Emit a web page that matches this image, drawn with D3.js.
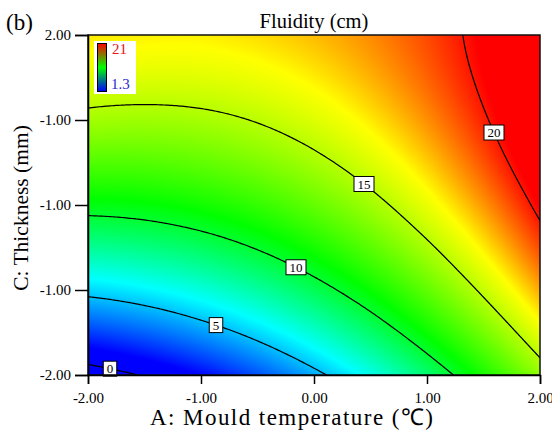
<!DOCTYPE html>
<html><head><meta charset="utf-8">
<script src="https://cdn.jsdelivr.net/npm/d3@7"></script>
<style>body{margin:0;background:#fff}</style>
</head><body>
<svg id="chart" width="552" height="432" xmlns="http://www.w3.org/2000/svg"></svg>
<script>
// ---------- data ----------
const gridA = [-2, -1.5, -1, -0.5, 0, 0.5, 1, 1.5, 2];        // A: Mould temperature (coded)
const gridC = [-2, -1.5, -1, -0.5, 0, 0.5, 1, 1.5, 2];        // C: Thickness (coded)
// fluidity (cm): one row per C value (bottom to top), one column per A value
const fluidity = [
  [-0.84,  0.13,  1.35,  2.84,  4.58,  6.59,  8.85, 11.38, 14.16],
  [ 2.45,  3.19,  4.22,  5.51,  7.09,  8.94, 11.07, 13.47, 16.15],
  [ 5.45,  5.99,  6.82,  7.94,  9.35, 11.04, 13.02, 15.29, 17.85],
  [ 8.16,  8.52,  9.16, 10.11, 11.35, 12.89, 14.71, 16.84, 19.26],
  [10.58, 10.76, 11.25, 12.02, 13.10, 14.47, 16.15, 18.11, 20.38],
  [12.71, 12.74, 13.06, 13.68, 14.60, 15.81, 17.31, 19.12, 21.21],
  [14.55, 14.44, 14.62, 15.09, 15.85, 16.89, 18.22, 19.84, 21.75],
  [16.00, 15.87, 15.92, 16.24, 16.84, 17.72, 18.87, 20.29, 22.00],
  [16.90, 16.80, 16.80, 17.10, 17.58, 18.29, 19.25, 20.48, 21.96]
];
const contourLevels = [0, 5, 10, 15, 20];
const labelA = [-1.80, -0.86, -0.16, 0.44, 1.59];   // where each contour label sits along A
const colorStops = [1.3, 6.2, 10.9, 16.6, 20.3];
const colorRange = ["#0000ff", "#00ffff", "#00ff00", "#ffff00", "#ff0000"];
const legendMax = "21", legendMin = "1.3";
const xTickValues = [-2, -1, 0, 1, 2];
const xTickLabels = ["-2.00", "-1.00", "0.00", "1.00", "2.00"];
const yTickValues = [-2, -1, 0, 1, 2];
const yTickLabels = ["-2.00", "-1.00", "-1.00", "-1.00", "2.00"];
const title = "Fluidity (cm)";
const xTitle = "A: Mould temperature (\u2103)";
const yTitle = "C: Thickness (mm)";
const panel = "(b)";

// ---------- layout ----------
const L = 88, R = 540, T = 35, B = 375;
const serif = "'Liberation Serif', 'Times New Roman', serif";

const x = d3.scaleLinear().domain([-2, 2]).range([L, R]);
const y = d3.scaleLinear().domain([-2, 2]).range([B, T]);
const color = d3.scaleLinear().domain(colorStops).range(colorRange).clamp(true);

// ---------- smooth surface through the grid (Catmull-Rom) ----------
const nA = gridA.length, nC = gridC.length;
function padRow(r) {
  const n = r.length;
  return [3*r[0]-3*r[1]+r[2], ...r, 3*r[n-1]-3*r[n-2]+r[n-3]];
}
let padded = fluidity.map(padRow);
{
  const n = padded.length, w = padded[0].length;
  const first = d3.range(w).map(i => 3*padded[0][i]-3*padded[1][i]+padded[2][i]);
  const last = d3.range(w).map(i => 3*padded[n-1][i]-3*padded[n-2][i]+padded[n-3][i]);
  padded = [first, ...padded, last];
}
function cr(p0, p1, p2, p3, t) {
  return p1 + 0.5*t*(p2 - p0 + t*(2*p0 - 5*p1 + 4*p2 - p3 + t*(3*(p1 - p2) + p3 - p0)));
}
const stepA = gridA[1]-gridA[0], stepC = gridC[1]-gridC[0];
function surf(a, c) {
  let u = (a - gridA[0]) / stepA, v = (c - gridC[0]) / stepC;
  let i = Math.min(nA - 2, Math.max(0, Math.floor(u))), j = Math.min(nC - 2, Math.max(0, Math.floor(v)));
  const tu = u - i, tv = v - j;
  const cols = [];
  for (let k = 0; k < 4; k++) {
    const row = padded[j + k];
    cols.push(cr(row[i], row[i+1], row[i+2], row[i+3], tu));
  }
  return cr(cols[0], cols[1], cols[2], cols[3], tv);
}

const svg = d3.select("#chart");
const defs = svg.append("defs");

// ---------- heat map ----------
const pw = R - L, ph = B - T;
const canvas = document.createElement("canvas");
canvas.width = pw; canvas.height = ph;
const ctx = canvas.getContext("2d");
const img = ctx.createImageData(pw, ph);
for (let py = 0; py < ph; py++) {
  const c = y.invert(T + py + 0.5);
  for (let px = 0; px < pw; px++) {
    const a = x.invert(L + px + 0.5);
    const col = d3.rgb(color(surf(a, c)));
    const o = 4*(py*pw + px);
    img.data[o] = col.r; img.data[o+1] = col.g; img.data[o+2] = col.b; img.data[o+3] = 255;
  }
}
ctx.putImageData(img, 0, 0);
svg.append("image").attr("x", L).attr("y", T).attr("width", pw).attr("height", ph)
  .attr("href", canvas.toDataURL());

// ---------- contours ----------
defs.append("clipPath").attr("id", "clip")
  .append("rect").attr("x", L).attr("y", T).attr("width", pw).attr("height", ph);
const nx = 227, ny = 171;
const vals = new Float64Array(nx*ny);
for (let j = 0; j < ny; j++) {
  const c = y.invert(T + j*ph/(ny-1));
  for (let i = 0; i < nx; i++) vals[j*nx + i] = surf(x.invert(L + i*pw/(nx-1)), c);
}
const sx = pw/(nx-1), sy = ph/(ny-1);
const toPx = p => [L + (p[0]-0.5)*sx, T + (p[1]-0.5)*sy];
const proj = d3.geoTransform({point(px, py) { const q = toPx([px, py]); this.stream.point(q[0], q[1]); }});
const path = d3.geoPath(proj);
const cons = d3.contours().size([nx, ny]).thresholds(contourLevels)(Array.from(vals));
const gC = svg.append("g").attr("clip-path", "url(#clip)");
gC.selectAll("path").data(cons).join("path")
  .attr("d", path).attr("fill", "none").attr("stroke", "#000").attr("stroke-width", 1.2);

// contour labels
const gL = svg.append("g");
cons.forEach((con, k) => {
  const tx = x(labelA[k]);
  let best = null, bd = Infinity;
  con.coordinates.forEach(poly => poly.forEach(ring => ring.forEach(p => {
    const q = toPx(p);
    if (q[0] < L + 2 || q[0] > R - 2 || q[1] < T + 2 || q[1] > B - 2) return;
    const d = Math.abs(q[0] - tx);
    if (d < bd) { bd = d; best = q; }
  })));
  if (!best) return;
  const g = gL.append("g").attr("transform", `translate(${best[0]},${best[1]})`);
  const t = g.append("text").attr("text-anchor", "middle").attr("dy", "0.35em")
    .attr("font-family", serif).attr("font-size", 13).attr("fill", "#000").text(String(con.value));
  const w = t.node().getComputedTextLength() + 7;
  g.insert("rect", "text").attr("x", -w/2).attr("y", -7.5).attr("width", w).attr("height", 15)
    .attr("fill", "#fff").attr("stroke", "#000").attr("stroke-width", 1);
});

// ---------- legend ----------
const grad = defs.append("linearGradient").attr("id", "lg")
  .attr("x1", 0).attr("y1", 0).attr("x2", 0).attr("y2", 1);
grad.append("stop").attr("offset", "0%").attr("stop-color", "#ff0000");
grad.append("stop").attr("offset", "50%").attr("stop-color", "#00ff00");
grad.append("stop").attr("offset", "100%").attr("stop-color", "#0000ff");
svg.append("rect").attr("x", 94).attr("y", 41).attr("width", 42).attr("height", 53).attr("fill", "#fff");
svg.append("rect").attr("x", 97.5).attr("y", 43.5).attr("width", 9).attr("height", 48)
  .attr("fill", "url(#lg)").attr("stroke", "#000").attr("stroke-width", 1);
svg.append("text").attr("x", 112).attr("y", 53.5).attr("font-family", serif).attr("font-size", 15)
  .attr("fill", "#e8141c").text(legendMax);
svg.append("text").attr("x", 111).attr("y", 88.5).attr("font-family", serif).attr("font-size", 15)
  .attr("fill", "#2a2ad0").text(legendMin);

// ---------- frame & axes ----------
svg.append("rect").attr("x", L).attr("y", T).attr("width", pw).attr("height", ph)
  .attr("fill", "none").attr("stroke", "#111").attr("stroke-width", 1.5);
const xAxis = d3.axisBottom(x).tickValues(xTickValues).tickSize(9).tickPadding(8)
  .tickFormat((d, i) => xTickLabels[i]);
const gx = svg.append("g").attr("transform", `translate(0,${B})`).call(xAxis);
const yAxis = d3.axisLeft(y).tickValues(yTickValues).tickSize(13).tickPadding(4)
  .tickFormat((d, i) => yTickLabels[i]);
const gy = svg.append("g").attr("transform", `translate(${L},0)`).call(yAxis);
[gx, gy].forEach(g => {
  g.select(".domain").attr("stroke", "#000").attr("stroke-width", 1.5);
  g.selectAll(".tick line").attr("stroke", "#000").attr("stroke-width", 1.5);
  g.selectAll(".tick text").attr("font-family", serif).attr("font-size", 15).attr("fill", "#000");
});

// ---------- titles ----------
svg.append("text").attr("x", 314).attr("y", 28).attr("text-anchor", "middle")
  .attr("font-family", serif).attr("font-size", 20.5).attr("fill", "#000").text(title);
svg.append("text").attr("x", 150).attr("y", 425)
  .attr("textLength", 283).attr("lengthAdjust", "spacing")
  .attr("font-family", serif).attr("font-size", 23).attr("fill", "#000").text(xTitle);
svg.append("text").attr("transform", "translate(28,208) rotate(-90)").attr("text-anchor", "middle")
  .attr("font-family", serif).attr("font-size", 21.5).attr("fill", "#000").text(yTitle);
svg.append("text").attr("x", 6).attr("y", 30).attr("font-family", serif).attr("font-size", 23)
  .attr("fill", "#000").text(panel);
</script>
</body></html>
